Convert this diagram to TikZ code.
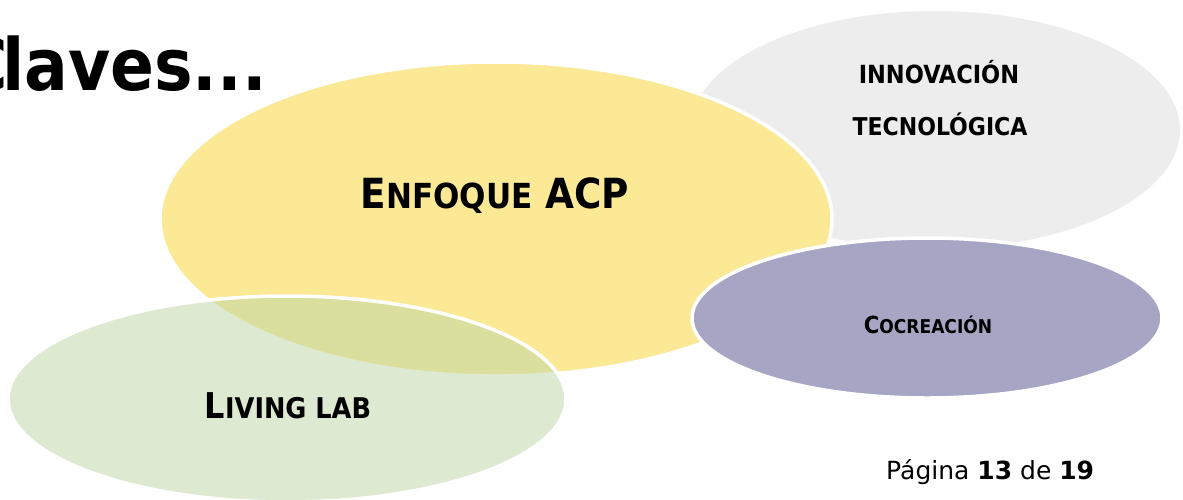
\documentclass[tikz,border=0pt]{standalone}
\usepackage{fontspec}
\setmainfont{DejaVu Sans Condensed}
\newfontfamily\footerfont{DejaVu Sans}
\usetikzlibrary{shapes.geometric}
\definecolor{acpyellow}{RGB}{251,233,149}
\definecolor{techgrey}{RGB}{237,237,237}
\definecolor{cocpurple}{RGB}{166,165,196}
\definecolor{labgreen}{RGB}{189,215,165}
\tikzset{
  blob/.style={ellipse, inner sep=0pt, outer sep=0pt},
  rim/.style={draw=white, line width=3.5pt},
  label/.style={anchor=base, inner sep=0pt, font=\bfseries},
}
\begin{document}
\begin{tikzpicture}[x=1pt, y=-1pt]
\useasboundingbox (0,0) rectangle (1183,499);
\fill[white] (0,0) rectangle (1183,499);

% title, its first letter running off the left edge
\node[anchor=base west, inner sep=0pt, font=\bfseries\fontsize{72}{76}\selectfont] (title) at (2,90) {\llap{C\kern-6pt}laves...};

% the four ellipses, back to front
\node[blob, fill=techgrey, minimum width=490pt, minimum height=238pt] (tech) at (935,130) {};
\node[blob, rim, fill=acpyellow, minimum width=672pt, minimum height=314pt] (acp) at (496,219) {};
\node[blob, rim, fill=cocpurple, minimum width=470pt, minimum height=160pt] (coc) at (927,318) {};
\node[blob, rim, fill=labgreen, fill opacity=0.5, minimum width=558pt, minimum height=206pt] (lab) at (287,399) {};

% labels
\node[label] (acptext) at (495,208) {\fontsize{41.5}{44}\selectfont E{\fontsize{34.5}{36}\selectfont NFOQUE} ACP};
\node[label] (techtext1) at (939,83) {\fontsize{25}{28}\selectfont INNOVACIÓN};
\node[label] (techtext2) at (940,135) {\fontsize{24.5}{28}\selectfont TECNOLÓGICA};
\node[label] (coctext) at (928,333) {\fontsize{23.5}{26}\selectfont C{\fontsize{19}{21}\selectfont OCREACIÓN}};
\node[label] (labtext) at (288,418) {\fontsize{35.5}{38}\selectfont L{\fontsize{28.5}{30}\selectfont IVING LAB}};

% page footer
\node[anchor=base west, inner sep=0pt, font=\footerfont\fontsize{25}{28}\selectfont] (page) at (886,479) {Página \textbf{13} de \textbf{19}};
\end{tikzpicture}
\end{document}
